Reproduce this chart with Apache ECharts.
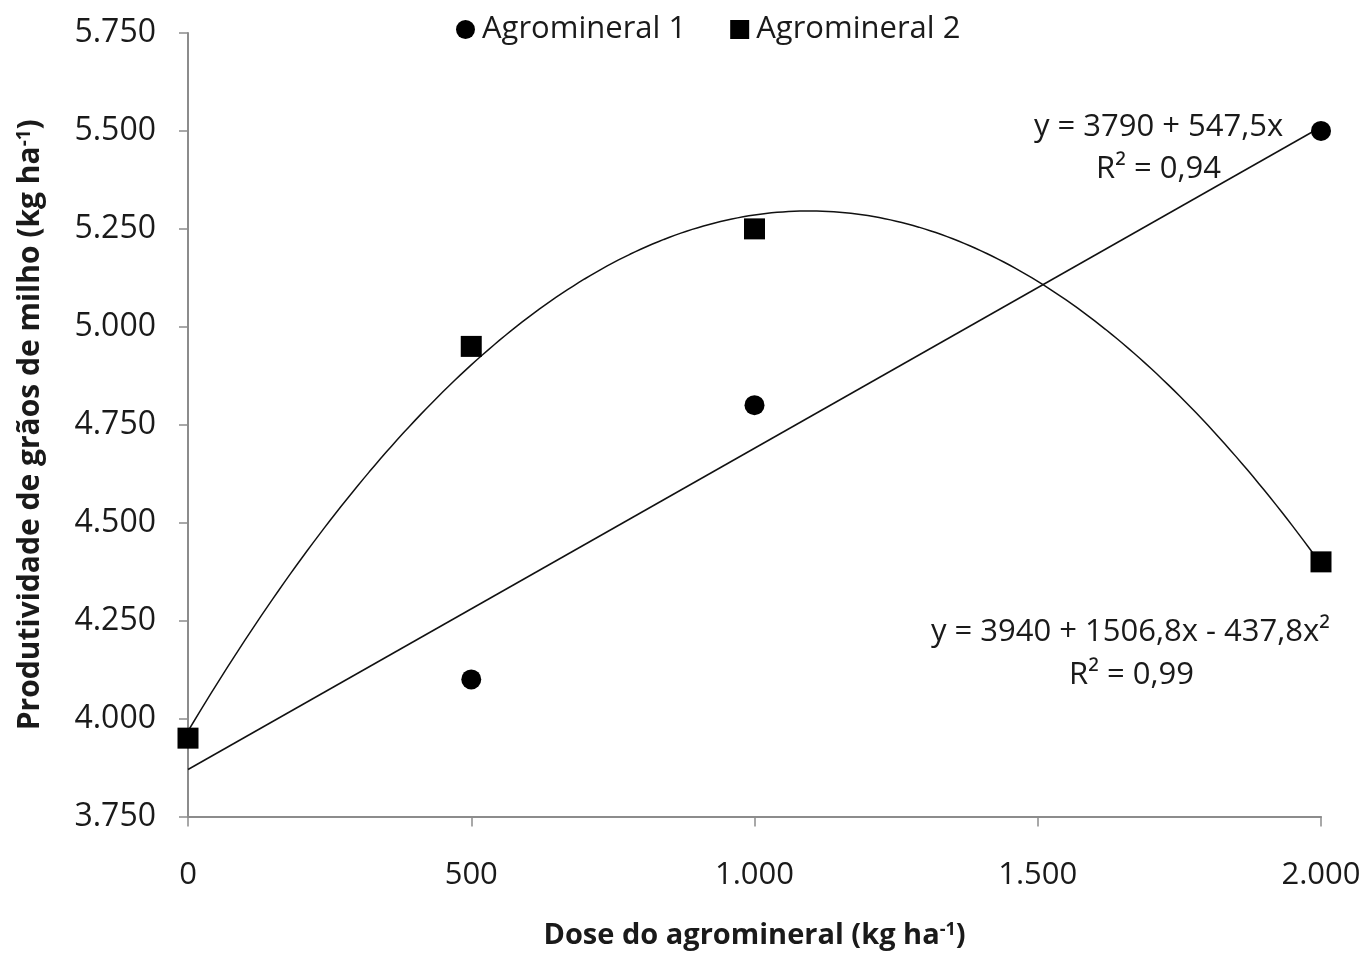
<!DOCTYPE html>
<html>
<head>
<meta charset="utf-8">
<script src="https://cdn.jsdelivr.net/npm/echarts@6/dist/echarts.min.js"></script>
<style>html,body{margin:0;padding:0;background:#fff}#c{width:1366px;height:955px}</style>
</head>
<body>
<div id="c"></div>
<script>
// Data
const doses = [0, 500, 1000, 2000];
const agromineral1 = [3950, 4100, 4800, 5500];
const agromineral2 = [3950, 4950, 5250, 4400];
const xTicks = [0, 500, 1000, 1500, 2000];
const yTicks = [3750, 4000, 4250, 4500, 4750, 5000, 5250, 5500, 5750];
const seriesNames = ['Agromineral 1', 'Agromineral 2'];
const eq1 = ['y = 3790 + 547,5x', 'R² = 0,94'];
const eq2 = ['y = 3940 + 1506,8x - 437,8x²', 'R² = 0,99'];

// Least-squares trendlines computed from the data (as the spreadsheet did)
function linFit(xs, ys) {
  const n = xs.length;
  const mx = xs.reduce((a, b) => a + b, 0) / n;
  const my = ys.reduce((a, b) => a + b, 0) / n;
  let sxx = 0, sxy = 0;
  for (let i = 0; i < n; i++) { sxx += (xs[i] - mx) ** 2; sxy += (xs[i] - mx) * (ys[i] - my); }
  const b = sxy / sxx;
  return x => my - b * mx + b * x;
}
function quadFit(xs, ys) {
  let S = [0, 0, 0, 0, 0], T = [0, 0, 0];
  for (let i = 0; i < xs.length; i++) {
    const x = xs[i] / 1000;
    for (let k = 0; k < 5; k++) S[k] += x ** k;
    for (let k = 0; k < 3; k++) T[k] += ys[i] * x ** k;
  }
  const M = [[S[0], S[1], S[2], T[0]], [S[1], S[2], S[3], T[1]], [S[2], S[3], S[4], T[2]]];
  for (let i = 0; i < 3; i++) {
    for (let j = i + 1; j < 3; j++) {
      const f = M[j][i] / M[i][i];
      for (let k = i; k < 4; k++) M[j][k] -= f * M[i][k];
    }
  }
  const c = [0, 0, 0];
  for (let i = 2; i >= 0; i--) {
    let s = M[i][3];
    for (let k = i + 1; k < 3; k++) s -= M[i][k] * c[k];
    c[i] = s / M[i][i];
  }
  return x => { const t = x / 1000; return c[0] + c[1] * t + c[2] * t * t; };
}
const f1 = linFit(doses, agromineral1);
const f2 = quadFit(doses, agromineral2);
const trend1 = [[xTicks[0], f1(xTicks[0])], [xTicks[xTicks.length - 1], f1(xTicks[xTicks.length - 1])]];
const trend2 = [];
for (let x = xTicks[0]; x <= xTicks[xTicks.length - 1]; x += 10) trend2.push([x, f2(x)]);

const fmt = v => String(v).replace(/\B(?=(\d{3})+(?!\d))/g, '.');
const FONT = '"Open Sans", sans-serif';
const TXT = '#1a1a1a';
const AX = '#8c8c8c';

const chart = echarts.init(document.getElementById('c'));
chart.setOption({
  animation: false,
  backgroundColor: '#fff',
  textStyle: { fontFamily: FONT },
  grid: { left: 188, right: 45, top: 33, bottom: 128, containLabel: false },
  legend: {
    data: [
      { name: seriesNames[0], icon: 'circle' },
      { name: seriesNames[1], icon: 'rect' }
    ],
    left: 451, top: 9,
    itemWidth: 19, itemHeight: 19, itemGap: 44,
    textStyle: { fontFamily: FONT, fontSize: 31, color: TXT, padding: [0, 0, 0, 2] }
  },
  xAxis: {
    type: 'value', min: xTicks[0], max: xTicks[xTicks.length - 1], interval: 500,
    axisLine: { show: true, onZero: false, lineStyle: { color: AX, width: 2 } },
    axisTick: { show: true, length: 10, lineStyle: { color: AX, width: 1.5 } },
    splitLine: { show: false },
    axisLabel: { formatter: fmt, fontFamily: FONT, fontSize: 31, color: TXT, margin: 43 },
    name: '{b|Dose do agromineral (kg ha}{s|-1}{b|)}',
    nameLocation: 'middle', nameGap: 104,
    nameTextStyle: {
      rich: {
        b: { fontFamily: FONT, fontSize: 29, fontWeight: 'bold', color: TXT },
        s: { fontFamily: FONT, fontSize: 18, fontWeight: 'bold', color: TXT, verticalAlign: 'top', padding: [0, 0, 12, 0] }
      }
    }
  },
  yAxis: {
    type: 'value', min: yTicks[0], max: yTicks[yTicks.length - 1], interval: 250,
    axisLine: { show: true, lineStyle: { color: AX, width: 2 } },
    axisTick: { show: true, length: 9, lineStyle: { color: AX, width: 1.5 } },
    splitLine: { show: false },
    axisLabel: { formatter: fmt, fontFamily: FONT, fontSize: 32, color: TXT, margin: 32 },
    name: '{b|Produtividade de grãos de milho (kg ha}{s|-1}{b|)}',
    nameLocation: 'middle', nameGap: 142, nameRotate: 90,
    nameTextStyle: {
      rich: {
        b: { fontFamily: FONT, fontSize: 30, fontWeight: 'bold', color: TXT },
        s: { fontFamily: FONT, fontSize: 19, fontWeight: 'bold', color: TXT, verticalAlign: 'top', padding: [0, 0, 12, 0] }
      }
    }
  },
  series: [
    {
      name: 'trend1', type: 'line', data: trend1, showSymbol: false, silent: true,
      lineStyle: { color: '#111', width: 1.5 }, z: 1
    },
    {
      name: 'trend2', type: 'line', data: trend2, showSymbol: false, silent: true, smooth: false,
      lineStyle: { color: '#111', width: 1.5 }, z: 1
    },
    {
      name: seriesNames[0], type: 'scatter', symbol: 'circle', symbolSize: 20,
      data: doses.map((d, i) => [d, agromineral1[i]]),
      itemStyle: { color: '#000', opacity: 1 }, z: 3
    },
    {
      name: seriesNames[1], type: 'scatter', symbol: 'rect', symbolSize: 21,
      data: doses.map((d, i) => [d, agromineral2[i]]),
      itemStyle: { color: '#000', opacity: 1 }, z: 4
    }
  ],
  graphic: [
    { type: 'text', left: 1034, top: 112, style: { text: eq1[0], font: '31px ' + FONT, fill: TXT } },
    { type: 'text', left: 1096, top: 154, style: { text: eq1[1], font: '31px ' + FONT, fill: TXT } },
    { type: 'text', left: 931, top: 617, style: { text: eq2[0], font: '31px ' + FONT, fill: TXT } },
    { type: 'text', left: 1069, top: 660, style: { text: eq2[1], font: '31px ' + FONT, fill: TXT } }
  ]
});
</script>
</body>
</html>
